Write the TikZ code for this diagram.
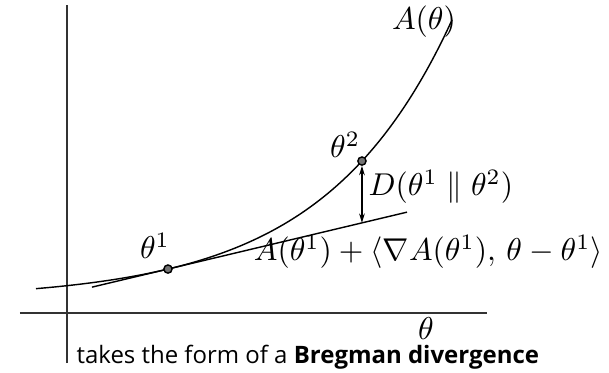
\documentclass[tikz,border=0pt]{standalone}
\usepackage{fontspec}
\newfontfamily\capfont{Open Sans}
\usepackage{amsmath}
\usepackage{tikz}
\usetikzlibrary{arrows.meta,positioning,calc}

\begin{document}
\begin{tikzpicture}[
  declare function={Af(\t)=0.49+0.34*(exp(0.7*(\t-1.125))-1); Lf(\t)=0.49+0.238*(\t-1.125);},
  axis/.style={line width=0.6pt, black!80},
  curve/.style={line width=0.45pt},
  dot/.style={circle, draw, fill=black!55, inner sep=0pt, minimum size=2.6pt, line width=0.45pt},
  lbl/.style={inner sep=0pt},
  gap/.style={{Stealth[length=3pt,width=1.8pt]}-{Stealth[length=3pt,width=1.8pt]}, line width=0.4pt}
]
\useasboundingbox (-0.746,-0.657) rectangle (6.038,3.487);

% axes
\draw[axis] (-0.524,0) -- (4.68,0);
\draw[axis] (0,-0.557) -- (0,3.43);
\node[lbl] (xlab) at (4.0,-0.178) {$\theta$};

% convex function and its tangent at theta^1
\draw[curve] plot[domain=-0.345:4.29, samples=80, smooth] (\x,{Af(\x)});
\coordinate (tanA) at (0.2785,{Lf(0.2785)});
\coordinate (tanB) at (3.788,{Lf(3.788)});
\draw[curve] (tanA) -- (tanB);

\node[dot] (t1) at (1.125,{Af(1.125)}) {};
\node[dot] (t2) at (3.286,{Af(3.286)}) {};
\coordinate (foot) at (3.286,{Lf(3.286)});
\draw[gap] (t2.south) -- (foot);

\node[lbl] (Alab) at (3.977,3.242) {$A(\theta)$};
\node[lbl] (t1lab) at (0.98,0.746) {$\theta^1$};
\node[lbl] (t2lab) at (3.097,1.872) {$\theta^2$};
\node[lbl, anchor=west] (Dlab) at (3.353,1.404) {$D(\theta^1 \parallel \theta^2)$};
\node[lbl, anchor=east] (tanlab) at (5.975,0.68)
  {$A(\theta^1) + \langle \nabla A(\theta^1),\, \theta - \theta^1\rangle$};

\node[lbl, anchor=base west, font=\capfont\fontsize{7.6}{9}\selectfont] (cap) at (0.1,-0.557)
  {takes the form of a \textbf{Bregman divergence}};
\end{tikzpicture}
\end{document}
